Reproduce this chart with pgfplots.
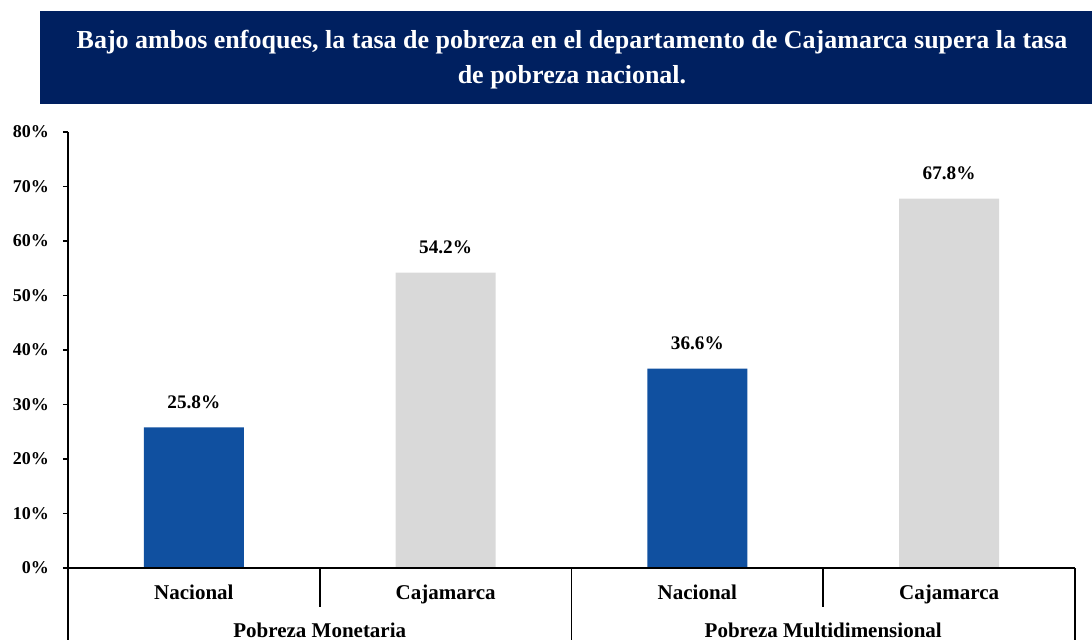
\documentclass[border=0pt]{standalone}
\usepackage{pgfplots}
\pgfplotsset{compat=1.18}
\usepackage{fontspec}
\setmainfont{Liberation Serif}
\definecolor{navy}{HTML}{002060}
\definecolor{barblue}{HTML}{1050A0}
\definecolor{bargray}{HTML}{D9D9D9}
\begin{document}
\begin{tikzpicture}
\clip (0,0) rectangle (546pt,319.5pt);
\fill[navy] (20pt,267.5pt) rectangle (546pt,314pt);
\node[text=white, font=\fontsize{13}{17.5}\selectfont\bfseries, align=center] at (286pt,289.5pt)
  {Bajo ambos enfoques, la tasa de pobreza en el departamento de Cajamarca supera la tasa\\de pobreza nacional.};
\begin{axis}[
  at={(34pt,35.5pt)}, anchor=south west, scale only axis,
  width=503.5pt, height=218pt,
  xmin=-0.5, xmax=3.5, ymin=0, ymax=80,
  axis lines=left,
  axis line style={-, line width=0.8pt, black},
  xtick=\empty,
  ytick={0,10,...,80},
  tick align=outside,
  major tick length=2.5pt,
  tick style={line width=0.8pt, black},
  /pgf/number format/assume math mode=true,
  yticklabel={\pgfmathprintnumber{\tick}\%},
  yticklabel style={font=\fontsize{9}{9}\selectfont\bfseries, xshift=-3.5pt},
  clip=false,
  nodes near coords={\pgfmathprintnumber[fixed,fixed zerofill,precision=1]{\pgfplotspointmeta}\%},
  every node near coord/.append style={font=\fontsize{9.6}{10}\selectfont\bfseries, anchor=south, inner sep=0pt, yshift=9pt, text=black},
]
\addplot[ybar, bar width=50pt, bar shift=0pt, fill=barblue, draw=none] coordinates {(0,25.8) (2,36.6)};
\addplot[ybar, bar width=50pt, bar shift=0pt, fill=bargray, draw=none] coordinates {(1,54.2) (3,67.8)};
\draw[line width=0.8pt] (axis cs:0.5,0) -- ++(0pt,-19.5pt);
\draw[line width=0.8pt] (axis cs:2.5,0) -- ++(0pt,-19.5pt);
\draw[line width=0.8pt] (axis cs:-0.5,0) -- ++(0pt,-40pt);
\draw[line width=0.8pt] (axis cs:1.5,0) -- ++(0pt,-40pt);
\draw[line width=0.8pt] (axis cs:3.5,0) -- ++(0pt,-40pt);
\draw[line width=0.8pt] (axis cs:-0.5,0) -- (axis cs:3.5,0);
\node[anchor=base, font=\fontsize{10.5}{11}\selectfont\bfseries] at ([yshift=-15.5pt]axis cs:0,0) {Nacional};
\node[anchor=base, font=\fontsize{10.5}{11}\selectfont\bfseries] at ([yshift=-15.5pt]axis cs:1,0) {Cajamarca};
\node[anchor=base, font=\fontsize{10.5}{11}\selectfont\bfseries] at ([yshift=-15.5pt]axis cs:2,0) {Nacional};
\node[anchor=base, font=\fontsize{10.5}{11}\selectfont\bfseries] at ([yshift=-15.5pt]axis cs:3,0) {Cajamarca};
\node[anchor=base, font=\fontsize{10.5}{11}\selectfont\bfseries] at ([yshift=-34.5pt]axis cs:0.5,0) {Pobreza Monetaria};
\node[anchor=base, font=\fontsize{10.5}{11}\selectfont\bfseries] at ([yshift=-34.5pt]axis cs:2.5,0) {Pobreza Multidimensional};
\end{axis}
\end{tikzpicture}
\end{document}
